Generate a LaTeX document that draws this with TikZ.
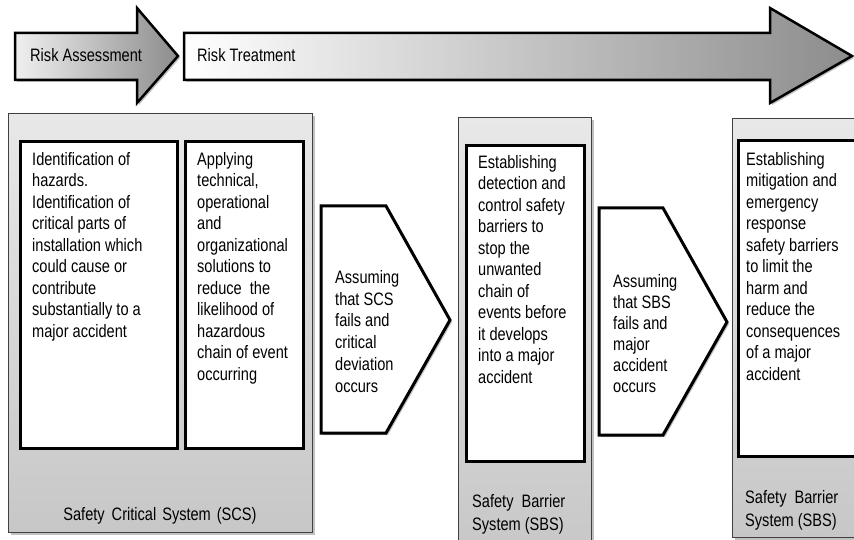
\documentclass[tikz,border=0pt]{standalone}
\usepackage{fontspec}
\setmainfont{Liberation Sans}[FakeStretch=0.81]
\usetikzlibrary{shadows}

\begin{document}
\begin{tikzpicture}[x=1pt,y=-1pt,
  softshadow/.style={drop shadow={shadow xshift=2pt,shadow yshift=-2pt,opacity=0.35,fill=black!70}},
  panel/.style={draw=black!75,line width=1.3pt,top color=black!9,bottom color=black!22,
    softshadow,inner sep=0pt,anchor=north west},
  card/.style={draw=black,line width=3pt,fill=white,inner sep=0pt,anchor=north west},
  chevron/.style={draw=black,line width=3pt,fill=white,line join=miter,softshadow},
  bigarrow/.style={draw=black,line width=2.5pt,line join=miter,softshadow},
  body/.style={font=\fontsize{18}{21.5}\selectfont,inner sep=0pt,align=left,anchor=north west},
  caption/.style={font=\fontsize{18}{23.5}\selectfont,inner sep=0pt,align=left},
]
\useasboundingbox (0,0) rectangle (854,540);
\clip (0,0) rectangle (854,540);

% top process arrows
\path[bigarrow,left color=black!6,right color=black!45]
  (15,33) -- (137,33) -- (137,8) -- (178,56) -- (137,103) -- (137,80) -- (15,80) -- cycle;
\path[bigarrow,left color=white,right color=black!45]
  (184,33) -- (770,33) -- (770,8) -- (852,56) -- (770,103) -- (770,80) -- (184,80) -- cycle;
\node[caption,anchor=base west] (ra) at (30,62) {Risk Assessment};
\node[caption,anchor=base west] (rt) at (197,62) {Risk Treatment};

% system panels
\node[panel,minimum width=304,minimum height=419] (scs) at (8,113) {};
\node[panel,minimum width=133,minimum height=440] (sbs1) at (458,117) {};
\node[panel,minimum width=140,minimum height=419] (sbs2) at (732,118) {};

% white cards inside the panels
\node[card,minimum width=157,minimum height=307] (c1) at (19,140) {};
\node[card,minimum width=118,minimum height=307] (c2) at (184,140) {};
\node[card,minimum width=118,minimum height=316] (c3) at (465,144) {};
\node[card,minimum width=130,minimum height=316] (c4) at (737,139) {};

% transition chevrons
\path[chevron] (321,206) -- (386,206) -- (450,320) -- (386,433) -- (321,433) -- cycle;
\path[chevron] (599,208) -- (663,208) -- (727,322) -- (663,435) -- (599,435) -- cycle;

% card texts
\node[body] (t1) at (32,152) {Identification of\\hazards.\\Identification of\\critical parts of\\installation which\\could cause or\\contribute\\substantially to a\\major accident};
\node[body] (t2) at (197,152) {Applying\\technical,\\operational\\and\\organizational\\solutions to\\reduce\ \ the\\likelihood of\\hazardous\\chain of event\\occurring};
\node[body] (t3) at (478,155) {Establishing\\detection and\\control safety\\barriers to\\stop the\\unwanted\\chain of\\events before\\it develops\\into a major\\accident};
\node[body] (t4) at (746,152) {Establishing\\mitigation and\\emergency\\response\\safety barriers\\to limit the\\harm and\\reduce the\\consequences\\of a major\\accident};

% chevron texts
\node[body,font=\fontsize{18}{21.8}\selectfont] (s1) at (335,270) {Assuming\\that SCS\\fails and\\critical\\deviation\\occurs};
\node[body,font=\fontsize{18}{21}\selectfont] (s2) at (613,274) {Assuming\\that SBS\\fails and\\major\\accident\\occurs};

% panel captions
\node[caption,anchor=base] (l1) at (160,520) {Safety\hspace{7pt}Critical\hspace{6pt}System\hspace{6pt}(SCS)};
\node[caption,anchor=north west] (l2) at (472,494) {Safety\hspace{8pt}Barrier\\System (SBS)};
\node[caption,anchor=north west] (l3) at (745,490) {Safety\hspace{8pt}Barrier\\System (SBS)};
\end{tikzpicture}
\end{document}
